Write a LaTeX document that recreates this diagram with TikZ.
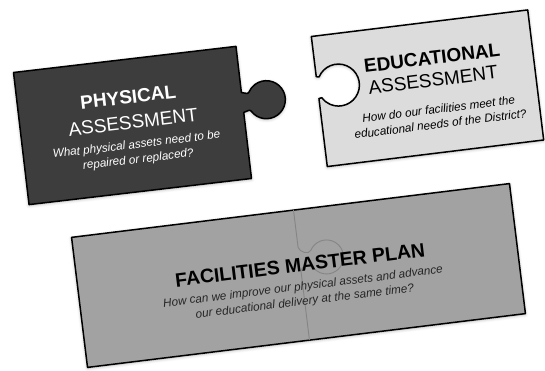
\documentclass[tikz,border=0pt]{standalone}
\usepackage{fontspec}
\setmainfont{Liberation Sans}
\usetikzlibrary{shadows.blur}
\definecolor{physfill}{HTML}{3D3D3D}
\definecolor{educfill}{HTML}{DCDCDC}
\definecolor{planfill}{HTML}{A2A2A2}
\definecolor{planseam}{HTML}{858585}

\begin{document}
\begin{tikzpicture}[x=1pt,y=1pt,
  piece/.style={draw=black,line width=1.5pt,line join=round,
    blur shadow={shadow xshift=0pt,shadow yshift=-1pt,shadow blur radius=3pt,shadow opacity=30}},
  headbold/.style={inner sep=0pt,font=\fontsize{19}{19}\selectfont\bfseries},
  headlight/.style={inner sep=0pt,font=\fontsize{19}{19}\selectfont},
  question/.style={inner sep=0pt,font=\fontsize{11.7}{15}\selectfont\itshape,align=center}]
\useasboundingbox (0,0) rectangle (545,371);
\begin{scope}[shift={(132.5,245.5)},rotate=6.7,transform shape]
\draw[piece,fill=physfill] (-112,-66.5) -- (112,-66.5) -- (112,0)
  to[out=0,in=120] (119.5,0.5) arc[start angle=-150,end angle=150,radius=19]
  to[out=240,in=0] (112,20) -- (112,66.5) -- (-112,66.5) -- cycle;
\node[headbold,text=white] (physhead) at (-1,28.8) {PHYSICAL};
\node[headlight,text=white] (physsub) at (1,3.4) {ASSESSMENT};
\node[question,text=white] (physq) at (1.8,-27.4) {What physical assets need to be\\repaired or replaced?};
\end{scope}
\begin{scope}[shift={(427.5,282.75)},rotate=7,transform shape]
\draw[piece,fill=educfill] (-109,-65.5) -- (109,-65.5) -- (109,65.5) -- (-109,65.5) -- (-109,25)
  -- (-106.2,24.5) arc[start angle=150,end angle=-150,radius=21] -- (-109,3) -- cycle;
\node[headbold] (eduhead) at (8.2,29.5) {EDUCATIONAL};
\node[headlight] (edusub) at (6.5,7.5) {ASSESSMENT};
\node[question] (eduq) at (8.5,-29.5) {How do our facilities meet the\\educational needs of the District?};
\end{scope}
\begin{scope}[shift={(298.5,95.5)},rotate=7,transform shape]
\draw[piece,fill=planfill] (-220.6,-65.5) -- (220.6,-65.5) -- (220.6,65.5) -- (-220.6,65.5) -- cycle;
\draw[planseam,line width=0.9pt] (3,65.5) -- (3,28) to[out=-80,in=240] (15.3,23.5)
  arc[start angle=150,end angle=-150,radius=17] to[out=120,in=90] (3,4) -- (3,-65.5);
\node[headbold,font=\fontsize{19.5}{19.5}\selectfont\bfseries] (planhead) at (2.8,10.2) {FACILITIES MASTER PLAN};
\node[question,text=black!85] (planq) at (3.1,-19.5) {How can we improve our physical assets and advance\\our educational delivery at the same time?};
\end{scope}
\end{tikzpicture}
\end{document}
